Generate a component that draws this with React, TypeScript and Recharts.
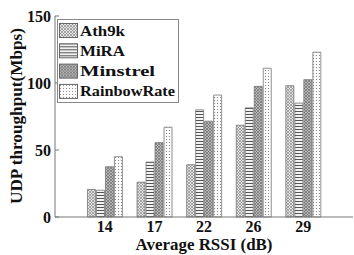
import { BarChart, Bar, XAxis, YAxis } from 'recharts'

const rssi = ['14', '17', '22', '26', '29']
const ath9k = [20.5, 26, 39, 68.5, 98]
const mira = [20, 41, 80, 81.5, 85]
const minstrel = [37.5, 55.5, 71.5, 97.5, 102.5]
const rainbow = [45, 67, 91, 111, 123]
const yTicks = [0, 50, 100, 150]

const series = [
  { key: 'ath9k', name: 'Ath9k', fill: 'url(#pAth)', tl: 45 },
  { key: 'mira', name: 'MiRA', fill: 'url(#pMira)', tl: 45 },
  { key: 'minstrel', name: 'Minstrel', fill: 'url(#pMin)', tl: 75 },
  { key: 'rainbow', name: 'RainbowRate', fill: 'url(#pRain)', tl: 95 },
]

const data = rssi.map((r, i) => ({
  rssi: r,
  ath9k: ath9k[i],
  mira: mira[i],
  minstrel: minstrel[i],
  rainbow: rainbow[i],
}))

const font = '"Liberation Serif", "Times New Roman", serif'

function LegendBox() {
  return (
    <svg width={122} height={84} style={{ display: 'block' }}>
      <rect x={0.5} y={0.5} width={121} height={83} fill="#fff" stroke="#888" />
      {series.map((s, i) => (
        <g key={s.key} transform={`translate(2, ${4 + i * 20.3})`}>
          <rect x={0.5} y={0.5} width={18} height={14} fill={s.fill} stroke="#666" />
          <text x={21} y={12.5} fontFamily={font} fontWeight="bold" fontSize={15}
            textLength={s.tl} lengthAdjust="spacingAndGlyphs" fill="#111">{s.name}</text>
        </g>
      ))}
    </svg>
  )
}

export default function App() {
  return (
    <div style={{ position: 'absolute', left: 0, top: 0, width: 354, height: 255, background: '#fff' }}>
      <BarChart width={354} height={255} data={data}
        margin={{ top: 16, right: 1, left: 0, bottom: 0 }}
        barCategoryGap="15%" barGap={1}>
        <defs>
          <pattern id="pAth" width={3} height={3} patternUnits="userSpaceOnUse">
            <rect width={3} height={3} fill="#e4e4e4" />
            <path d="M0,3 L3,0 M0,0 L3,3" stroke="#8a8a8a" strokeWidth={0.7} />
          </pattern>
          <pattern id="pMira" width={3} height={3} patternUnits="userSpaceOnUse">
            <rect width={3} height={3} fill="#f2f2f2" />
            <rect y={0} width={3} height={1} fill="#555" />
          </pattern>
          <pattern id="pMin" width={3} height={3} patternUnits="userSpaceOnUse">
            <rect width={3} height={3} fill="#b8b8b8" />
            <path d="M0,3 L3,0 M0,0 L3,3" stroke="#6e6e6e" strokeWidth={0.7} />
          </pattern>
          <pattern id="pRain" width={3} height={3} patternUnits="userSpaceOnUse">
            <rect width={3} height={3} fill="#fbfbfb" />
            <rect x={1} y={1} width={1} height={1} fill="#888" />
          </pattern>
        </defs>
        <XAxis dataKey="rssi" padding={{ left: 25, right: 25 }} height={38}
          stroke="#777" tickSize={-4} tickMargin={8}
          tick={{ fontFamily: font, fontWeight: 'bold', fontSize: 16, fill: '#111' }}
          label={(p: any) => (
            <text x={204} y={250} textAnchor="middle" fontFamily={font} fontWeight="bold" fontSize={16}
              textLength={137} lengthAdjust="spacingAndGlyphs" fill="#111">Average RSSI (dB)</text>
          )} />
        <XAxis dataKey="rssi" xAxisId="top" orientation="top" height={0} padding={{ left: 25, right: 25 }}
          stroke="#777" tickSize={-4} tick={false} />
        <YAxis domain={[0, 150]} ticks={yTicks} width={55} stroke="#777" tickSize={-4} tickMargin={8}
          tick={{ fontFamily: font, fontWeight: 'bold', fontSize: 16, fill: '#111' }}
          label={(p: any) => (
            <text x={0} y={0} transform="translate(22,116) rotate(-90)" textAnchor="middle"
              fontFamily={font} fontWeight="bold" fontSize={16}
              textLength={176} lengthAdjust="spacingAndGlyphs" fill="#111">UDP throughput(Mbps)</text>
          )} />
        <YAxis yAxisId="right" orientation="right" domain={[0, 150]} ticks={yTicks} width={0}
          stroke="#777" tickSize={-4} tick={false} />
        {series.map(s => (
          <Bar key={s.key} dataKey={s.key} name={s.name} fill={s.fill} stroke="#777" strokeWidth={0.8}
            isAnimationActive={false} />
        ))}
      </BarChart>
      <div style={{ position: 'absolute', left: 57, top: 19 }}>
        <LegendBox />
      </div>
    </div>
  )
}
